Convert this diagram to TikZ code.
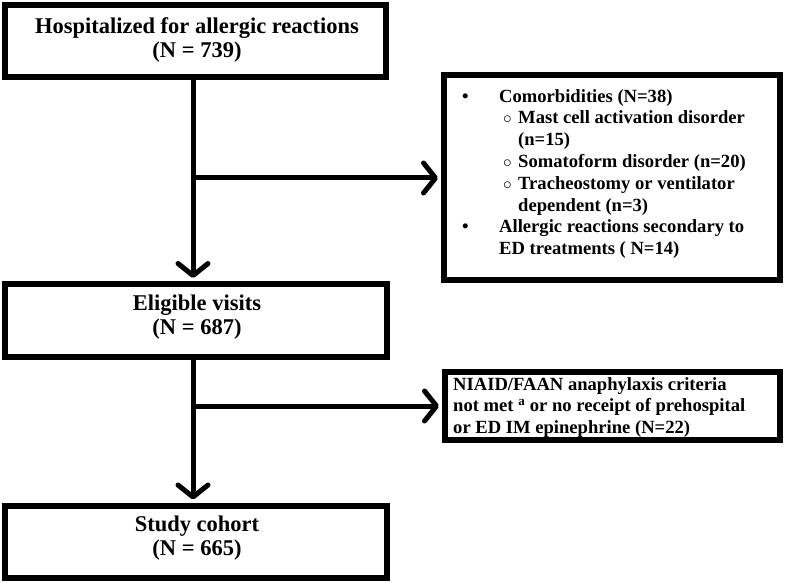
\documentclass[tikz,border=0pt]{standalone}
\usepackage{fontspec}
\setmainfont{Liberation Serif}
\usetikzlibrary{arrows.meta,calc}
\tikzset{
  box/.style={draw, line width=6pt, inner sep=0pt, fill=white},
  lbl/.style={font=\bfseries\fontsize{22.5}{24}\selectfont, align=center, inner sep=0pt},
  rlbl/.style={font=\bfseries\fontsize{18.6}{21.8}\selectfont, align=left, inner sep=0pt, anchor=north west},
  arr/.style={line width=5pt, -{Straight Barb[length=12pt,width=30pt,round]}},
  ln/.style={line width=5pt}
}
\begin{document}
\begin{tikzpicture}[x=1pt,y=-1pt]
\useasboundingbox (0,0) rectangle (785,583);
% left column boxes
\node[box, minimum width=381pt, minimum height=72pt] (top) at (195.5,41) {};
\node[lbl] (toptext) at (197,40) {Hospitalized for allergic reactions\\(N = 739)};
\node[box, minimum width=382pt, minimum height=73pt] (elig) at (196,320.5) {};
\node[lbl] (eligtext) at (197,317) {Eligible visits\\(N = 687)};
\node[box, minimum width=382pt, minimum height=72pt] (study) at (196,541.5) {};
\node[lbl] (studytext) at (197,538) {Study cohort\\(N = 665)};
% right boxes
\node[box, minimum width=336pt, minimum height=205pt] (r1) at (612,177.5) {};
\node[rlbl] (r1text) at (462,89) {%
\makebox[37pt][l]{\textbullet}Comorbidities (N=38)\\
\hspace*{41pt}\makebox[15pt][l]{$\circ$}Mast cell activation disorder\\
\hspace*{56pt}(n=15)\\
\hspace*{41pt}\makebox[15pt][l]{$\circ$}Somatoform disorder (n=20)\\
\hspace*{41pt}\makebox[15pt][l]{$\circ$}Tracheostomy or ventilator\\
\hspace*{56pt}dependent (n=3)\\
\makebox[37pt][l]{\textbullet}Allergic reactions secondary to\\
\hspace*{37pt}ED treatments ( N=14)};
\node[box, minimum width=335pt, minimum height=68pt] (r2) at (612.5,406) {};
\node[rlbl] (r2text) at (453,377) {NIAID/FAAN anaphylaxis criteria\\
not met \textsuperscript{a} or no receipt of prehospital\\
or ED IM epinephrine (N=22)};
% connectors
\coordinate (vx) at (193,0);
\coordinate (b1) at (193,178);
\coordinate (b2) at (193,406);
\draw[arr, shorten >=3pt] (top.south -| vx) -- (elig.north -| vx);
\draw[arr, shorten >=3pt] (elig.south -| vx) -- (study.north -| vx);
\draw[arr, shorten >=3pt] (b1) -- (r1.west |- b1);
\draw[arr, shorten >=3pt] (b2) -- (r2.west |- b2);
\end{tikzpicture}
\end{document}
